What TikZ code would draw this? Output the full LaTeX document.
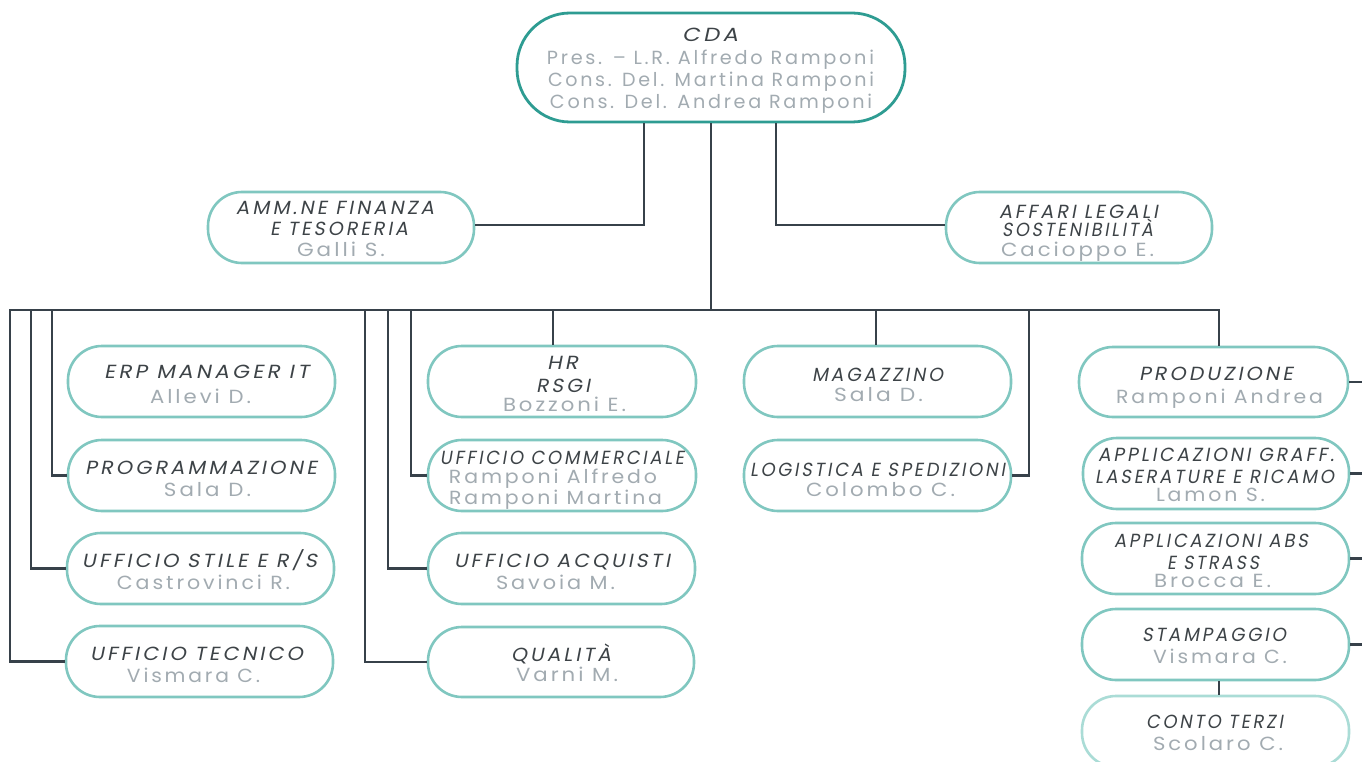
\documentclass[tikz,border=0pt]{standalone}
\usepackage{fontspec}
\usepackage{graphicx}
\usetikzlibrary{calc}
\newfontfamily\tfont[FakeSlant=0.18,LetterSpace=15]{Poppins}
\newfontfamily\nfont[LetterSpace=14]{Poppins}
\definecolor{cdac}{HTML}{2E9C92}
\definecolor{boxc}{HTML}{80C7C0}
\definecolor{contoc}{HTML}{AADCD6}
\definecolor{linec}{HTML}{37414A}
\definecolor{titc}{HTML}{3D4347}
\definecolor{namec}{HTML}{A2ABB1}
\tikzset{
  box/.style={draw=boxc, line width=2.6pt, rounded corners=34pt, fill=white, inner sep=0pt},
  cdabox/.style={draw=cdac, line width=2.8pt, rounded corners=53pt, fill=white, inner sep=0pt},
  contobox/.style={draw=contoc, line width=2.6pt, rounded corners=34pt, fill=white, inner sep=0pt},
  conn/.style={draw=linec, line width=2.8pt, line join=miter},
  ttext/.style={anchor=base, inner sep=0pt, text=titc},
  ntext/.style={anchor=base, inner sep=0pt, text=namec}
}
\newcommand\obox[6][box]{\node[#1, minimum width={(#5-#3)*1pt}, minimum height={(#6-#4)*1pt}] (#2) at ({(#3+#5)/2},{(#4+#6)/2}) {};}
\newcommand\tx[5]{\node[ttext] (#1) at (#2,{#3+6.7}) {\fontsize{19}{22}\tfont\resizebox{#4pt}{\height}{#5}};}
\newcommand\nm[5]{\node[ntext] (#1) at (#2,{#3+6.7}) {\fontsize{19}{22}\nfont\resizebox{#4pt}{\height}{#5}};}
\begin{document}
\begin{tikzpicture}[x=1pt,y=-1pt]
\useasboundingbox (0,0) rectangle (1362,762);
\fill[white] (0,0) rectangle (1362,762);
% boxes
\obox[cdabox]{cda}{517}{13}{905}{122}
\obox{amm}{208}{192}{474}{263}
\obox{aff}{946}{192}{1212}{263}
\obox{erp}{68}{346}{335}{417}
\obox{prog}{68}{440}{335}{511}
\obox{stile}{67}{533}{334}{604}
\obox{tec}{66}{626}{333}{697}
\obox{hr}{428}{346}{696}{417}
\obox{comm}{428}{440}{696}{511}
\obox{acq}{428}{533}{695}{604}
\obox{qual}{428}{627}{694}{697}
\obox{mag}{744}{346}{1011}{417}
\obox{log}{744}{440}{1011}{511}
\obox{prod}{1079}{347}{1348}{417}
\obox{graff}{1083}{438}{1349}{509}
\obox{abs}{1082}{523}{1349}{594}
\obox{stamp}{1082}{609}{1349}{680}
\obox[contobox]{conto}{1082}{696}{1349}{767}
% coordinates
\coordinate (busC) at (711,310);
\coordinate (busL) at (10,310);
\coordinate (busR) at (1219,310);
\coordinate (d2) at (31,310);
\coordinate (d3) at (52,310);
\coordinate (d4) at (365,310);
\coordinate (d5) at (388,310);
\coordinate (d6) at (411,310);
\coordinate (d7) at (553,310);
\coordinate (d8) at (876,310);
\coordinate (d9) at (1029,310);
\coordinate (edge) at (1362,0);
\coordinate (cL) at ($(cda.south)+(-67,0)$);
\coordinate (cR) at ($(cda.south)+(65,0)$);
% connectors
\draw[conn] (cda.south) -- (busC);
\draw[conn] (cL) |- ($(amm.east)+(0,-2.5)$);
\draw[conn] (cR) |- ($(aff.west)+(0,-2.5)$);
\draw[conn] (tec.west) -| (busL) -- (busR) -- (busR |- prod.north);
\draw[conn] (d2) |- (stile.west);
\draw[conn] (d3) |- (prog.west);
\draw[conn] (d4) |- (qual.west);
\draw[conn] (d5) |- (acq.west);
\draw[conn] (d6) |- (comm.west);
\draw[conn] (d7) -- (d7 |- hr.north);
\draw[conn] (d8) -- (d8 |- mag.north);
\draw[conn] (d9) |- (log.east);
\draw[conn] (prod.east) -- (prod.east -| edge);
\draw[conn] (graff.east) -- (graff.east -| edge);
\draw[conn] (abs.east) -- (abs.east -| edge);
\draw[conn] (stamp.east) -- (stamp.east -| edge);
\draw[conn] (busR |- stamp.south) -- (busR |- conto.north);
% texts
\tx{cdaT}{710}{35}{56}{CDA}
\nm{cda1}{710.5}{58}{327}{Pres. – L.R. Alfredo Ramponi}
\nm{cda2}{711}{80}{326}{Cons. Del. Martina Ramponi}
\nm{cda3}{711}{102}{322}{Cons. Del. Andrea Ramponi}
\tx{ammT1}{335}{208}{198}{AMM.NE FINANZA}
\tx{ammT2}{339}{229}{138}{E TESORERIA}
\nm{ammN}{341}{250}{88}{Galli S.}
\tx{affT1}{1078.5}{212}{159}{AFFARI LEGALI}
\tx{affT2}{1077.5}{230}{151}{SOSTENIBILITÀ}
\nm{affN}{1077.5}{250}{153}{Cacioppo E.}
\tx{erpT}{206.5}{372}{205}{ERP MANAGER IT}
\nm{erpN}{200.5}{397}{101}{Allevi D.}
\tx{progT}{201}{468}{232}{PROGRAMMAZIONE}
\nm{progN}{207.5}{490}{87}{Sala D.}
\tx{stileT}{199.5}{561}{235}{UFFICIO STILE E R/S}
\nm{stileN}{203.5}{583}{173}{Castrovinci R.}
\tx{tecT}{196.5}{654}{213}{UFFICIO TECNICO}
\nm{tecN}{193.5}{676}{133}{Vismara C.}
\tx{hrT1}{562.5}{363}{31}{HR}
\tx{hrT2}{563}{386}{54}{RSGI}
\nm{hrN}{564.5}{405}{123}{Bozzoni E.}
\tx{commT}{562}{458}{244}{UFFICIO COMMERCIALE}
\nm{commN1}{553}{477}{208}{Ramponi Alfredo}
\nm{commN2}{555.5}{498}{213}{Ramponi Martina}
\tx{acqT}{562}{561}{216}{UFFICIO ACQUISTI}
\nm{acqN}{555.5}{583}{119}{Savoia M.}
\tx{qualT}{561}{655}{100}{QUALITÀ}
\nm{qualN}{567}{675}{102}{Varni M.}
\tx{magT}{877.5}{375}{131}{MAGAZZINO}
\nm{magN}{878.5}{395}{89}{Sala D.}
\tx{logT}{877.5}{470}{255}{LOGISTICA E SPEDIZIONI}
\nm{logN}{880.5}{490}{149}{Colombo C.}
\tx{prodT}{1216}{374}{154}{PRODUZIONE}
\nm{prodN}{1219.5}{397}{207}{Ramponi Andrea}
\tx{grT1}{1216}{455}{236}{APPLICAZIONI GRAFF.}
\tx{grT2}{1214.5}{477}{239}{LASERATURE E RICAMO}
\nm{grN}{1210.5}{495}{109}{Lamon S.}
\tx{absT1}{1211}{541}{194}{APPLICAZIONI ABS}
\tx{absT2}{1213}{563}{92}{E STRASS}
\nm{absN}{1212.5}{581}{117}{Brocca E.}
\tx{stT}{1214}{635}{144}{STAMPAGGIO}
\nm{stN}{1220}{657}{134}{Vismara C.}
\tx{ctT}{1214.5}{722}{137}{CONTO TERZI}
\nm{ctN}{1218}{744}{130}{Scolaro C.}
\end{tikzpicture}
\end{document}
